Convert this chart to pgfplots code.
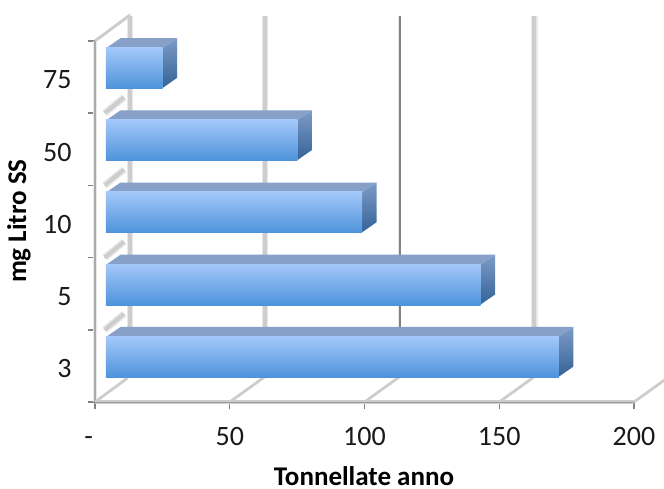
\documentclass[border=0pt]{standalone}
\usepackage{pgfplots}
\pgfplotsset{compat=1.18}
\usepackage{fontspec}
\setmainfont{Carlito}
\definecolor{facetop}{RGB}{134,160,200}
\definecolor{frontA}{RGB}{164,200,250}
\definecolor{frontB}{RGB}{77,147,218}
\definecolor{sideA}{RGB}{125,155,198}
\definecolor{sideB}{RGB}{52,98,152}
\definecolor{halo}{RGB}{232,232,232}
\definecolor{gridlight}{RGB}{205,205,205}
\definecolor{griddark}{RGB}{130,130,130}
\definecolor{wallgray}{RGB}{170,170,170}
\begin{document}
\begin{tikzpicture}[x=1pt,y=1pt]
\path[use as bounding box] (0,0) rectangle (664,488);
\begin{axis}[
  at={(95pt,86pt)}, anchor=south west,
  scale only axis, width=539pt, height=361pt,
  xmin=0, xmax=200, ymin=0, ymax=5,
  clip=false,
  axis line style={draw=none},
  tick style={draw=griddark, line width=1.4pt},
  major tick length=7pt,
  tick align=outside,
  xtick pos=bottom, ytick pos=left,
  xtick={0,50,100,150,200},
  xticklabels={\makebox[0pt][r]{-\hspace*{2pt}}\vphantom{0},50,100,150,200},
  ytick={0,1,2,3,4,5},
  yticklabels={},
  extra y ticks={0.5,1.5,2.5,3.5,4.5},
  extra y tick labels={3,5,10,50,75},
  extra y tick style={major tick length=0pt, tick style={draw=none}},
  every tick label/.append style={font=\fontsize{28}{32}\selectfont, text=black!90},
  xticklabel style={yshift=-15pt},
  yticklabel style={xshift=-20pt, yshift=-3pt},
  /pgf/number format/assume math mode=true,
  xlabel={\textbf{Tonnellate anno}},
  ylabel={\textbf{mg Litro SS}},
  xlabel style={at={(axis description cs:0.499,-0.232)}, anchor=base, inner sep=0pt, font=\fontsize{27}{30}\selectfont},
  ylabel style={at={(axis description cs:-0.141,0.501)}, anchor=center, font=\fontsize{27}{30}\selectfont},
  every axis plot/.append style={forget plot},
]
% back-wall grid lines, each with a pale edge
\addplot[halo, line width=6.5pt] coordinates {(13,0.33)(13,5.35)};
\addplot[gridlight, line width=4pt] coordinates {(13,0.33)(13,5.35)};
\addplot[halo, line width=6.5pt] coordinates {(63,0.33)(63,5.35)};
\addplot[gridlight, line width=4pt] coordinates {(63,0.33)(63,5.35)};
\addplot[halo, line width=3.5pt] coordinates {(113,0.33)(113,5.35)};
\addplot[griddark, line width=2pt] coordinates {(113,0.33)(113,5.35)};
\addplot[halo, line width=6.5pt] coordinates {(163,0.33)(163,5.35)};
\addplot[gridlight, line width=4pt] coordinates {(163,0.33)(163,5.35)};
% floor lines running back from the axis
\addplot[gridlight, line width=2.8pt] coordinates {(50,0)(63,0.35)};
\addplot[gridlight, line width=2.8pt] coordinates {(100,0)(113,0.35)};
\addplot[gridlight, line width=2.8pt] coordinates {(150,0)(163,0.35)};
\addplot[gridlight, line width=2.8pt] coordinates {(200,0)(213,0.35)};
\addplot[gridlight, line width=2.8pt] coordinates {(0,0)(12,0.33)};
% shadowed steps on the side wall between the bars
\addplot[halo, line width=7pt] coordinates {(3.6,1.0)(10.8,1.22)};
\addplot[gridlight, line width=4pt] coordinates {(3.6,1.0)(10.8,1.22)};
\addplot[halo, line width=7pt] coordinates {(3.6,2.0)(10.8,2.22)};
\addplot[gridlight, line width=4pt] coordinates {(3.6,2.0)(10.8,2.22)};
\addplot[halo, line width=7pt] coordinates {(3.6,3.0)(10.8,3.22)};
\addplot[gridlight, line width=4pt] coordinates {(3.6,3.0)(10.8,3.22)};
\addplot[halo, line width=7pt] coordinates {(3.6,4.0)(10.8,4.22)};
\addplot[gridlight, line width=4pt] coordinates {(3.6,4.0)(10.8,4.22)};
% front edges of the walls and the floor
\addplot[gridlight, line width=3pt] coordinates {(0,5)(13,5.36)};
\addplot[halo, line width=4pt] coordinates {(0,0)(0,5)};
\addplot[wallgray, line width=2pt] coordinates {(0,0)(0,5)};
\addplot[gridlight, line width=3.4pt] coordinates {(0,0)(200,0)};
\addplot[griddark!80, line width=1.3pt] coordinates {(0,-0.005)(200,-0.005)};

% bars: tonnes per year, one bar per concentration class
\pgfplotsset{front/.style={xbar, xshift=11pt, bar width=41pt, bar shift=0pt, draw=none,
    top color=frontA, bottom color=frontB},
  upper/.style={xshift=11pt, draw=none, fill=facetop},
  side/.style={xshift=11pt, draw=none, top color=sideA, bottom color=sideB}}
\addplot[upper] coordinates {(0,4.90)(21,4.90)(26.4,5.04)(5.4,5.04)} --cycle;
\addplot[side] coordinates {(21,4.35)(21,4.90)(26.4,5.04)(26.4,4.49)} --cycle;
\addplot[front] coordinates {(21,4.625)};
\addplot[upper] coordinates {(0,3.90)(71,3.90)(76.4,4.04)(5.4,4.04)} --cycle;
\addplot[side] coordinates {(71,3.35)(71,3.90)(76.4,4.04)(76.4,3.49)} --cycle;
\addplot[front] coordinates {(71,3.625)};
\addplot[upper] coordinates {(0,2.90)(95,2.90)(100.4,3.04)(5.4,3.04)} --cycle;
\addplot[side] coordinates {(95,2.35)(95,2.90)(100.4,3.04)(100.4,2.49)} --cycle;
\addplot[front] coordinates {(95,2.625)};
\addplot[upper] coordinates {(0,1.90)(139,1.90)(144.4,2.04)(5.4,2.04)} --cycle;
\addplot[side] coordinates {(139,1.35)(139,1.90)(144.4,2.04)(144.4,1.49)} --cycle;
\addplot[front] coordinates {(139,1.625)};
\addplot[upper] coordinates {(0,0.90)(168,0.90)(173.4,1.04)(5.4,1.04)} --cycle;
\addplot[side] coordinates {(168,0.35)(168,0.90)(173.4,1.04)(173.4,0.49)} --cycle;
\addplot[front] coordinates {(168,0.625)};
\end{axis}
\end{tikzpicture}
\end{document}
